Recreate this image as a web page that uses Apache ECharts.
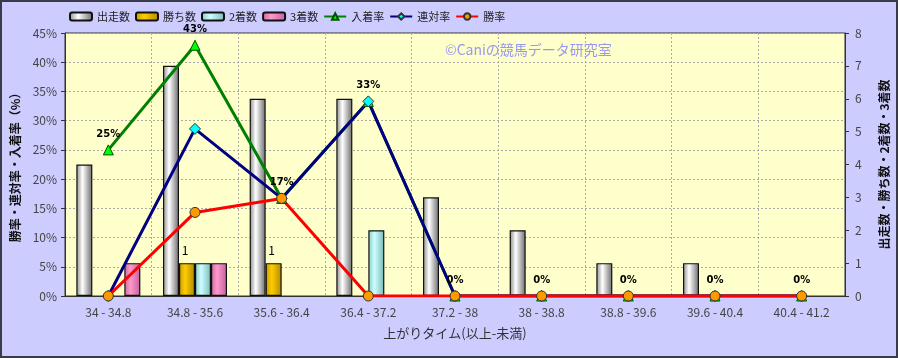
<!DOCTYPE html>
<html><head><meta charset="utf-8">
<script src="https://cdn.jsdelivr.net/npm/echarts@6/dist/echarts.min.js"></script>
<style>
html,body{margin:0;padding:0;}
#wrap{width:898px;height:358px;box-sizing:border-box;border:2px solid #3a3a4a;background:#CCCCFF;position:relative;}
#c{position:absolute;left:-2px;top:-2px;width:898px;height:358px;}
</style></head>
<body><div id="wrap"><div id="c"></div></div>
<script>
var categories = ["34 - 34.8","34.8 - 35.6","35.6 - 36.4","36.4 - 37.2","37.2 - 38","38 - 38.8","38.8 - 39.6","39.6 - 40.4","40.4 - 41.2"];
var starts  = [4,7,6,6,3,2,1,1,0];
var wins    = [0,1,1,0,0,0,0,0,0];
var seconds = [0,1,0,2,0,0,0,0,0];
var thirds  = [1,1,0,0,0,0,0,0,0];
var placeRate = [25,42.9,16.7,33.3,0,0,0,0,0];
var quinellaRate = [0,28.6,16.7,33.3,0,0,0,0,0];
var winRate = [0,14.3,16.7,0,0,0,0,0,0];
var leftTicks = [0,5,10,15,20,25,30,35,40,45];
var rightTicks = [0,1,2,3,4,5,6,7,8];

var FONT = '"Noto Sans CJK JP","Noto Sans",sans-serif';
function grad(edgeL, mid, edgeR){
  return new echarts.graphic.LinearGradient(0,0,1,0,[
    {offset:0,color:edgeL},{offset:0.38,color:mid},{offset:1,color:edgeR}]);
}
function barSeries(name, data, c1, c2, c3, showLabel){
  return {
    name:name, type:'bar', yAxisIndex:1,
    data:data.map(function(v){return v>0?v:'-';}),
    barWidth:16, barGap:'0%',
    itemStyle:{color:grad(c1,c2,c3), borderColor:'#111', borderWidth:1.2},
    label:{show:!!showLabel, position:'top', color:'#000', fontSize:12, fontFamily:FONT,
      distance:7, offset:[-2,0],
      formatter:function(p){return p.value>0?p.value:'';}},
    z:2
  };
}
function lineSeries(name, data, color, symbol, symColor, showLabel){
  return {
    name:name, type:'line', yAxisIndex:0, data:data, symbol:symbol, symbolSize: symbol==='diamond'?11:10,
    lineStyle:{color:color, width:3}, itemStyle:{color:symColor, borderColor: symbol==='triangle'?'#005000':'#333', borderWidth:1},
    label:{show:!!showLabel, position:'top', distance:5, color:'#000', fontSize:10, fontWeight:'bold', fontFamily:'"DejaVu Sans",sans-serif',
      formatter:function(p){return Math.round(p.value)+'%';}},
    z:5
  };
}
var chart = echarts.init(document.getElementById('c'), null, {renderer:'canvas'});
chart.setOption({
  animation:false,
  textStyle:{fontFamily:FONT},
  legend:{
    left:64, top:6, itemWidth:22, itemHeight:8, itemGap:5,
    textStyle:{fontSize:11, color:'#222', fontFamily:FONT},
    data:['出走数','勝ち数','2着数','3着数','入着率','連対率','勝率']
  },
  grid:{left:65, right:53, top:33, bottom:62, show:true, backgroundColor:'#FFFFCC', borderColor:'#333', borderWidth:1},
  graphic:[{type:'text', left:445, top:43, z:1,
    style:{text:'©Caniの競馬データ研究室', fill:'#9898F0', fontSize:14, fontFamily:FONT}}],
  xAxis:{
    type:'category', data:categories, boundaryGap:true,
    name:'上がりタイム(以上-未満)', nameLocation:'middle', nameGap:31,
    nameTextStyle:{fontSize:13, color:'#333', fontFamily:FONT},
    axisLine:{lineStyle:{color:'#333'}}, axisTick:{show:false},
    axisLabel:{fontSize:12, color:'#444', margin:10, fontFamily:FONT},
    splitLine:{show:true, lineStyle:{color:'#aaa', type:[2,2]}}
  },
  yAxis:[{
    type:'value', min:0, max:45, interval:5, position:'left',
    name:'勝率・連対率・入着率（%）', nameLocation:'middle', nameRotate:90, nameGap:37,
    nameTextStyle:{fontSize:12, fontWeight:'bold', color:'#111', fontFamily:FONT},
    axisLine:{show:true, lineStyle:{color:'#333'}}, axisTick:{show:true, length:4, inside:false},
    axisLabel:{fontSize:12, color:'#444', margin:8, formatter:function(v){return leftTicks.indexOf(v)>=0? v+'%':'';}},
    splitLine:{show:true, lineStyle:{color:'#aaa', type:[2,2]}}
  },{
    type:'value', min:0, max:8, interval:1, position:'right',
    name:'出走数・勝ち数・2着数・3着数', nameLocation:'middle', nameRotate:90, nameGap:33,
    nameTextStyle:{fontSize:12, fontWeight:'bold', color:'#111', fontFamily:FONT},
    axisLine:{show:true, lineStyle:{color:'#333'}}, axisTick:{show:true, length:4},
    axisLabel:{fontSize:12, color:'#444', margin:10, formatter:function(v){return rightTicks.indexOf(v)>=0? String(v):'';}},
    splitLine:{show:false}
  }],
  series:[
    barSeries('出走数', starts, '#8a8a8a', '#ffffff', '#6a6a6a'),
    barSeries('勝ち数', wins, '#c89a00', '#ffcc00', '#b08800', true),
    barSeries('2着数', seconds, '#88c8c8', '#ccffff', '#7ab8b8'),
    barSeries('3着数', thirds, '#c86a9a', '#ff99cc', '#c0609a'),
    lineSeries('入着率', placeRate, '#008000', 'triangle', '#00ff00', true),
    lineSeries('連対率', quinellaRate, '#000080', 'diamond', '#00ffff'),
    lineSeries('勝率', winRate, '#ff0000', 'circle', '#ff9900')
  ]
});
</script></body></html>
